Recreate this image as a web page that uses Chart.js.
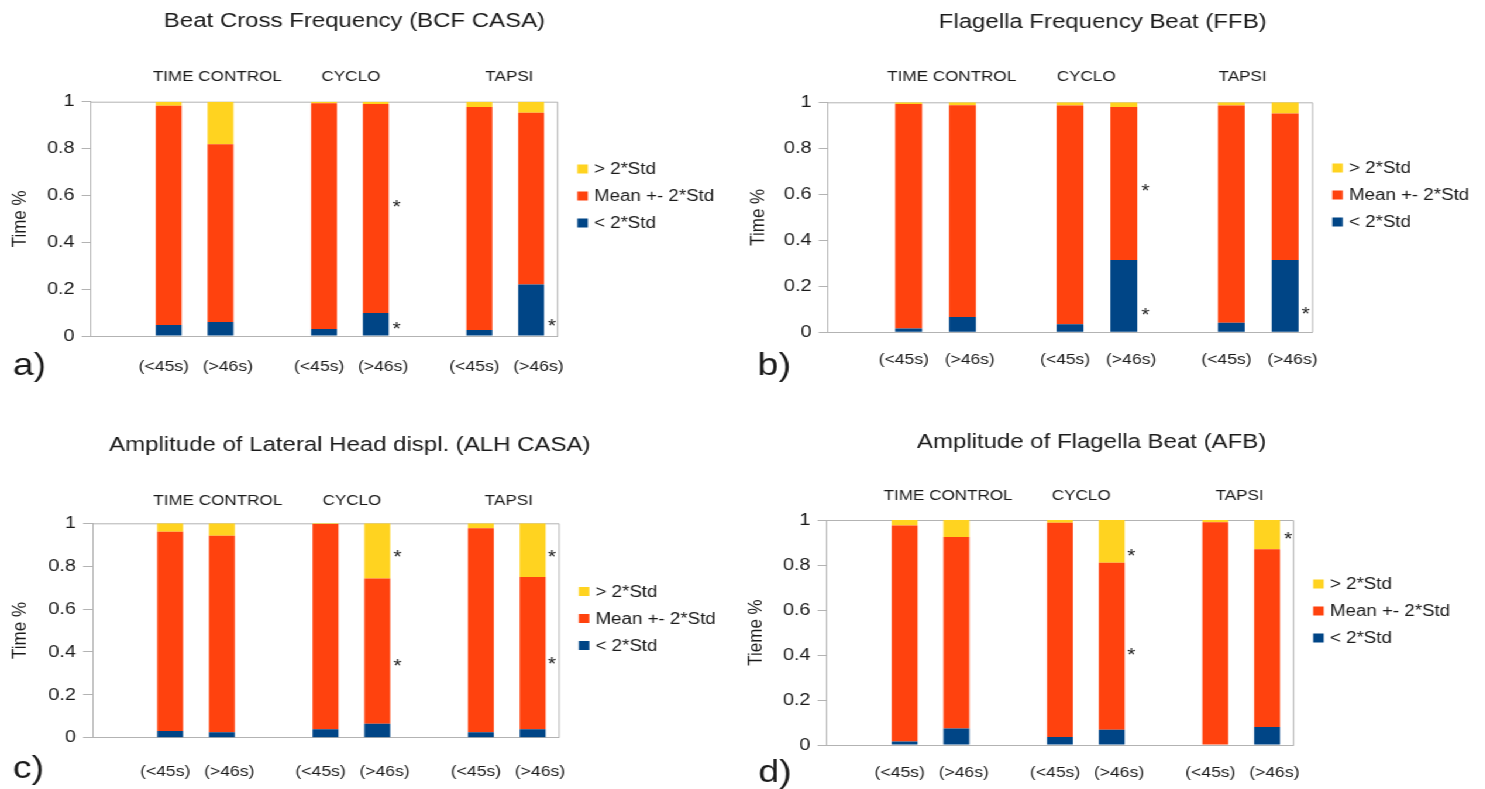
<!DOCTYPE html>
<html>
<head>
<meta charset="utf-8">
<script src="https://cdn.jsdelivr.net/npm/chart.js@4.4.1/dist/chart.umd.min.js"></script>
<style>
  html, body { margin: 0; padding: 0; background: #fff; overflow: hidden; }
  /* the source figure is stretched horizontally, so the whole stage is too */
  #stage { position: absolute; left: 0; top: 0; width: 1270px; height: 789px;
           transform: scaleX(1.17); transform-origin: 0 0; }
  .panel { position: absolute; }
</style>
</head>
<body>
<div id="stage">
  <div class="panel" style="left:0;top:0"><canvas id="chart-a" width="630" height="400"></canvas></div>
  <div class="panel" style="left:630px;top:0"><canvas id="chart-b" width="639" height="400"></canvas></div>
  <div class="panel" style="left:0;top:400px"><canvas id="chart-c" width="630" height="389"></canvas></div>
  <div class="panel" style="left:630px;top:400px"><canvas id="chart-d" width="639" height="389"></canvas></div>
</div>
<script>
// ── データ ────────────────────────────────────────────
// 空白は元図のラベル間隔に合わせるため
const slotLabels = ['', '(<45s)  ', '   (>46s)', '', '(<45s)  ', '   (>46s)', '', '(<45s)  ', '   (>46s)'];
const groupNames = ['TIME CONTROL', 'CYCLO', 'TAPSI'];
const seriesNames = ['< 2*Std', 'Mean +- 2*Std', '> 2*Std'];
const yTicks = [0, 0.2, 0.4, 0.6, 0.8, 1];

// a) Beat Cross Frequency (BCF CASA)
const bcfLow  = [0.047, 0.060, 0.030, 0.098, 0.026, 0.220];
const bcfMid  = [0.936, 0.758, 0.963, 0.892, 0.951, 0.733];
const bcfHigh = [0.017, 0.182, 0.007, 0.010, 0.023, 0.047];
const bcfStars = [[5.4, 0.568], [5.4, 0.051], [8.4, 0.064]];

// b) Flagella Frequency Beat (FFB)
const ffbLow  = [0.016, 0.067, 0.035, 0.314, 0.042, 0.314];
const ffbMid  = [0.977, 0.920, 0.951, 0.666, 0.944, 0.637];
const ffbHigh = [0.007, 0.013, 0.014, 0.020, 0.014, 0.049];
const ffbStars = [[5.4, 0.633], [5.4, 0.094], [8.385, 0.097]];

// c) Amplitude of Lateral Head displ. (ALH CASA)
const alhLow  = [0.031, 0.026, 0.039, 0.065, 0.026, 0.039];
const alhMid  = [0.930, 0.916, 0.958, 0.677, 0.951, 0.711];
const alhHigh = [0.039, 0.058, 0.003, 0.258, 0.023, 0.250];
const alhStars = [[5.39, 0.863], [5.39, 0.354], [8.37, 0.863], [8.37, 0.365]];

// d) Amplitude of Flagella Beat (AFB)
const afbLow  = [0.016, 0.073, 0.036, 0.068, 0.000, 0.080];
const afbMid  = [0.960, 0.851, 0.952, 0.742, 0.990, 0.790];
const afbHigh = [0.024, 0.076, 0.012, 0.190, 0.010, 0.130];
const afbStars = [[5.38, 0.859], [5.38, 0.419], [8.41, 0.936]];

const colors = ['#004586', '#ff420e', '#ffd320'];
const AXIS = '#b3b3b3';
const TEXT = '#1a1a1a';
const FONT = '"Liberation Sans", Arial, sans-serif';

// ── パネル配置 ─────────────────────────────────────────
const panels = [
  { id: 'chart-a', title: 'Beat Cross Frequency (BCF CASA)', letter: 'a)', yTitle: 'Time %',
    series: [bcfLow, bcfMid, bcfHigh], stars: bcfStars,
    yw: 77.8, xh: 64, pt: 101.7, pr: 153.9, yTitlePad: 6.8, xPad: 22,
    titleX: 303, titleY: 21, groupPos: [1.94, 4.52, 7.58], groupY: 77,
    legendY: 196, letterX: 11, letterY: 375 },
  { id: 'chart-b', title: 'Flagella Frequency Beat (FFB)', letter: 'b)', yTitle: 'Time %',
    series: [ffbLow, ffbMid, ffbHigh], stars: ffbStars,
    yw: 77.7, xh: 67.7, pt: 102.3, pr: 147.6, yTitlePad: 7.7, xPad: 19,
    titleX: 312.5, titleY: 22, groupPos: [1.8, 4.3, 7.21], groupY: 77,
    legendY: 195, letterX: 17.6, letterY: 375 },
  { id: 'chart-c', title: 'Amplitude of Lateral Head displ. (ALH CASA)', letter: 'c)', yTitle: 'Time %',
    series: [alhLow, alhMid, alhHigh], stars: alhStars,
    yw: 79, xh: 51.3, pt: 123.3, pr: 152.6, yTitlePad: 7.5, xPad: 25,
    titleX: 299, titleY: 45, groupPos: [1.92, 4.51, 7.54], groupY: 100.7,
    legendY: 218.5, letterX: 11, letterY: 378 },
  { id: 'chart-d', title: 'Amplitude of Flagella Beat (AFB)', letter: 'd)', yTitle: 'Tieme %',
    series: [afbLow, afbMid, afbHigh], stars: afbStars,
    yw: 76.8, xh: 44, pt: 120, pr: 163.9, yTitlePad: 6.5, xPad: 19.3,
    titleX: 303, titleY: 42, groupPos: [1.84, 4.41, 7.47], groupY: 96,
    legendY: 211, letterX: 18.3, letterY: 381.7 },
];

// 6本の値を空き枠入りの9カテゴリに並べる
function toSlots(vals) {
  return [null, vals[0], vals[1], null, vals[2], vals[3], null, vals[4], vals[5]];
}

// ── 装飾（枠・タイトル・群名・凡例・*印） ───────────────
function makeDecor(p) {
  return {
    id: 'decor-' + p.id,
    beforeDatasetsDraw(chart) {
      const { ctx, chartArea: a } = chart;
      ctx.save();
      ctx.strokeStyle = AXIS;
      ctx.lineWidth = 1;
      ctx.beginPath();
      ctx.moveTo(a.left, a.top + 0.5);
      ctx.lineTo(a.right + 0.5, a.top + 0.5);
      ctx.lineTo(a.right + 0.5, a.bottom);
      ctx.stroke();
      ctx.restore();
    },
    afterDraw(chart) {
      const { ctx, chartArea: a, scales: { x, y } } = chart;
      ctx.save();
      ctx.fillStyle = TEXT;
      ctx.textAlign = 'center';
      ctx.textBaseline = 'middle';

      ctx.font = `20.5px ${FONT}`;
      ctx.fillText(p.title, p.titleX, p.titleY);

      ctx.font = `14.6px ${FONT}`;
      p.groupPos.forEach((pos, i) => ctx.fillText(groupNames[i], x.getPixelForValue(pos), p.groupY));

      ctx.font = `18px ${FONT}`;
      ctx.textBaseline = 'alphabetic';
      p.stars.forEach(([pos, v]) => ctx.fillText('*', x.getPixelForValue(pos), y.getPixelForValue(v) + 10.5));

      // 凡例（上から >, mean, <）
      ctx.font = `16px ${FONT}`;
      ctx.textAlign = 'left';
      ctx.textBaseline = 'middle';
      const ds = chart.data.datasets.slice().reverse();
      ds.forEach((d, k) => {
        const ry = p.legendY + (k - 1) * 27;
        const lx = a.right + 17.3;
        ctx.fillStyle = d.backgroundColor;
        ctx.fillRect(lx, ry - 4.5, 9, 9);
        ctx.fillStyle = TEXT;
        ctx.fillText(d.label, lx + 14.3, ry + 1);
      });

      ctx.font = `32px ${FONT}`;
      ctx.textBaseline = 'alphabetic';
      ctx.fillText(p.letter, p.letterX, p.letterY);
      ctx.restore();
    }
  };
}

// ── グラフ描画 ─────────────────────────────────────────
function renderPanel(p) {
  const ctx = document.getElementById(p.id).getContext('2d');
  return new Chart(ctx, {
    type: 'bar',
    data: {
      labels: slotLabels,
      datasets: p.series.map((vals, i) => ({
        label: seriesNames[i],
        data: toSlots(vals),
        backgroundColor: colors[i],
        borderWidth: 0,
        barPercentage: 0.5,
        categoryPercentage: 1,
      }))
    },
    options: {
      responsive: false,
      animation: false,
      events: [],
      layout: { padding: { left: 0, right: p.pr, top: p.pt, bottom: 0 } },
      plugins: { legend: { display: false }, tooltip: { enabled: false } },
      scales: {
        x: {
          stacked: true,
          grid: { display: false, drawTicks: false },
          border: { display: true, color: AXIS, width: 1 },
          ticks: { color: TEXT, font: { size: 15, family: FONT }, padding: p.xPad,
                    autoSkip: false, maxRotation: 0 },
          afterFit: s => { s.height = p.xh; }
        },
        y: {
          stacked: true,
          min: 0,
          max: 1,
          grid: { display: true, drawOnChartArea: false, drawTicks: true, tickLength: 8, color: AXIS },
          border: { display: true, color: AXIS, width: 1 },
          ticks: { color: TEXT, font: { size: 17, family: FONT }, padding: 6,
                    callback: v => String(v) },
          afterBuildTicks: s => { s.ticks = yTicks.map(v => ({ value: v })); },
          title: { display: true, text: p.yTitle, color: TEXT,
                   font: { size: 17, family: FONT }, padding: { top: p.yTitlePad, bottom: 0 } },
          afterFit: s => { s.width = p.yw; }
        }
      }
    },
    plugins: [makeDecor(p)]
  });
}

Chart.defaults.font.family = FONT;
Chart.defaults.color = TEXT;
panels.forEach(renderPanel);
</script>
</body>
</html>
